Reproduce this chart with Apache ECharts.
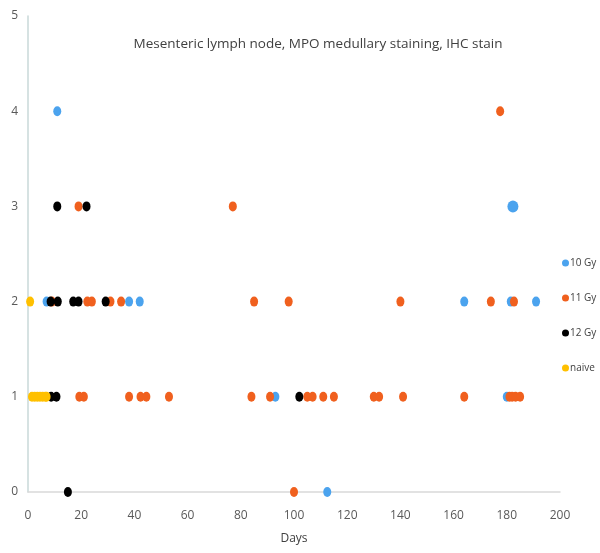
<!DOCTYPE html>
<html>
<head>
<meta charset="utf-8">
<script src="https://cdn.jsdelivr.net/npm/echarts@6/dist/echarts.min.js"></script>
<style>
  html, body { margin: 0; padding: 0; background: #fff; }
</style>
</head>
<body>
<div id="main" style="width: 600px;height: 553px"></div>

<script type="text/javascript">
    // data: [day, grade]
    var seriesNames = ['10 Gy', '11 Gy', '12 Gy', 'naive'];
    var xTicks = [0, 20, 40, 60, 80, 100, 120, 140, 160, 180, 200];
    var yTicks = [0, 1, 2, 3, 4, 5];

    var gy10 = [[11, 4], [7, 2], [38, 2], [42, 2], [164, 2], [181.5, 2], [191, 2],
        [93, 1], [180, 1], [112.5, 0]];
    var gy10Big = [[182.3, 3]];
    var gy11 = [[177.5, 4], [19, 3], [77, 3],
        [9, 2], [22.3, 2], [24, 2], [31, 2], [35, 2], [85, 2], [98, 2], [140, 2], [174, 2], [182.7, 2],
        [19.3, 1], [21, 1], [38, 1], [42.3, 1], [44.5, 1], [53, 1], [84, 1], [91, 1], [105, 1], [107, 1],
        [111, 1], [115, 1], [130, 1], [132, 1], [141, 1], [164, 1], [181, 1], [182, 1], [183.3, 1], [185, 1],
        [100, 0]];
    var gy12 = [[11, 3], [22, 3], [8.5, 2], [11.2, 2], [17, 2], [19, 2], [29.2, 2],
        [8.7, 1], [10.7, 1], [102, 1], [15, 0]];
    var naive = [[0.8, 2], [1.5, 1], [2.5, 1], [3.5, 1], [4.5, 1], [5.5, 1], [6.5, 1], [7, 1]];

    var colors = ['#4ba3ee', '#f0601e', '#000000', '#ffc000'];
    var font = 'Open Sans';

    var myChart = echarts.init(document.getElementById('main'));

    var option = {
        animation: false,
        backgroundColor: '#fff',
        title: {
            text: 'Mesenteric lymph node, MPO medullary staining, IHC stain',
            left: 313,
            top: 32,
            textAlign: 'center',
            textStyle: { fontFamily: font, fontSize: 13.5, fontWeight: 'normal', color: '#404040' }
        },
        legend: {
            orient: 'vertical',
            left: 562,
            top: 258,
            padding: 0,
            itemGap: 25,
            itemWidth: 7,
            itemHeight: 7,
            icon: 'circle',
            data: seriesNames,
            textStyle: { fontFamily: font, fontSize: 10, color: '#404040', padding: [0, 0, 0, -4] }
        },
        grid: { left: 28, right: 40, top: 16, bottom: 61, outerBoundsMode: 'none' },
        xAxis: {
            type: 'value',
            min: xTicks[0],
            max: xTicks[xTicks.length - 1],
            interval: 20,
            name: 'Days',
            nameLocation: 'middle',
            nameGap: 41,
            nameTextStyle: { fontFamily: font, fontSize: 12, color: '#404040' },
            axisLine: { lineStyle: { color: '#d9d9d9', width: 1.5 } },
            axisTick: { show: false },
            splitLine: { show: false },
            axisLabel: { fontFamily: font, fontSize: 12, color: '#595959', margin: 18 }
        },
        yAxis: {
            type: 'value',
            min: yTicks[0],
            max: yTicks[yTicks.length - 1],
            interval: 1,
            name: 'Grade',
            nameLocation: 'middle',
            nameGap: 22,
            nameTextStyle: { fontFamily: font, fontSize: 12, fontWeight: 'bold', color: '#595959' },
            axisLine: { show: true, lineStyle: { color: '#c8d8d8', width: 1.5 } },
            axisTick: { show: false },
            splitLine: { show: false },
            axisLabel: { fontFamily: font, fontSize: 12, color: '#595959', margin: 10 }
        },
        series: [
            { name: '10 Gy', type: 'scatter', data: gy10, symbolSize: [8, 10], itemStyle: { color: colors[0], opacity: 1 } },
            { name: '10 Gy', type: 'scatter', data: gy10Big, symbolSize: [11, 12], itemStyle: { color: colors[0], opacity: 1 } },
            { name: '11 Gy', type: 'scatter', data: gy11, symbolSize: [8, 10], itemStyle: { color: colors[1], opacity: 1 } },
            { name: '12 Gy', type: 'scatter', data: gy12, symbolSize: [8, 10], itemStyle: { color: colors[2], opacity: 1 } },
            { name: 'naive', type: 'scatter', data: naive, symbolSize: [8, 10], itemStyle: { color: colors[3], opacity: 1 } }
        ]
    };

    myChart.setOption(option);
</script>
</body>
</html>
